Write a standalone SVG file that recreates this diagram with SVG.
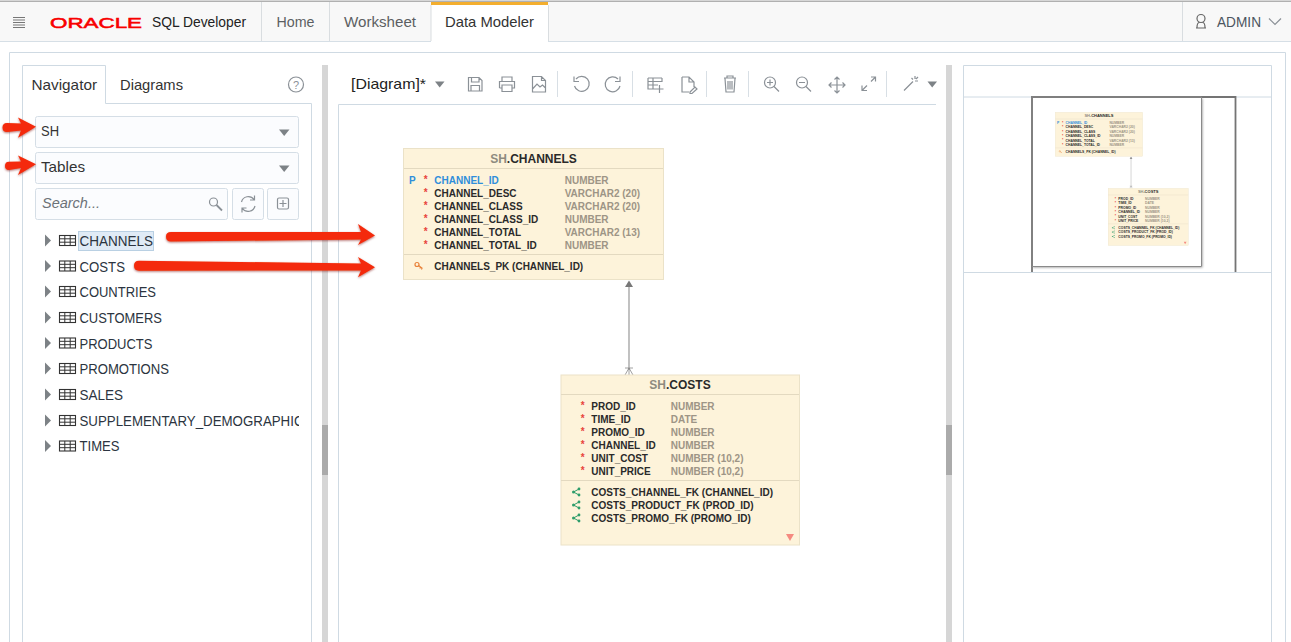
<svg xmlns="http://www.w3.org/2000/svg" width="1291" height="642" viewBox="0 0 1291 642">
<style>
text{font-family:"Liberation Sans",Arial,sans-serif}
.line{fill:none;stroke:#cfdae3;stroke-width:1}
.box{fill:#fbfcfe;stroke:#d5dee6;stroke-width:1}
.ic{fill:none;stroke:#8b9197;stroke-width:1.2}
.car{fill:#7d8286}
.ui{font-size:15px;fill:#333}
.tree{font-size:15px;fill:#2b3440}
.tn{fill:#fdf3da;stroke:#ebe2c8;stroke-width:1}
.dv{stroke:#e3d9c0;stroke-width:1}
.ttl{font-size:12px;font-weight:bold;fill:#2a2a2a;text-anchor:middle}
.ttl .sc{fill:#8e8b80}
.c{font-size:10px;font-weight:bold;fill:#2a2a2a}
.t{font-size:10px;font-weight:bold;fill:#9d9586}
.s{font-size:10px;font-weight:bold;fill:#e8443a}
.split{fill:#d6d6d6}
.thumb{fill:#ababab}
.red{fill:#f42a08;filter:url(#sh)}
</style>
<defs>
<filter id="sh" x="-10%" y="-40%" width="120%" height="200%"><feDropShadow dx="0" dy="1" stdDeviation="1" flood-color="#700" flood-opacity=".55"/></filter>
<filter id="ps" x="-5%" y="-5%" width="110%" height="110%"><feDropShadow dx="1" dy="1" stdDeviation="1" flood-color="#000" flood-opacity=".4"/></filter>
<clipPath id="treeclip"><rect x="20" y="225" width="279" height="240"/></clipPath>
<g id="tb"><rect x="0" y="-5" width="16" height="10" fill="none" stroke="#333" stroke-width="1.1"/><path d="M0-1.700H16M0 1.700H16M5.300-5V5M10.700-5V5" stroke="#333" stroke-width="1" fill="none"/></g>
<path id="exp" d="M0-6L6 0L0 6Z" class="car"/>
<g id="fk"><path d="M3.500-3L-2 0L3.500 3" fill="none" stroke="#2e9d6b" stroke-width="1"/><circle cx="-2" cy="0" r="1.500" fill="#2e9d6b"/><circle cx="3.500" cy="-3" r="1.400" fill="#2e9d6b"/><circle cx="3.500" cy="3" r="1.400" fill="#2e9d6b"/></g>
<g id="diagram">
<g id="connectors-fk"><path d="M629 284V370" stroke="#bbb" stroke-width="1.800" fill="none"/><path d="M629 280.500L633 287H625Z" fill="#777"/><path d="M629 368L625 375M629 368L633 375M629 368V375M625 368H633" stroke="#888" stroke-width=".8" fill="none"/></g>
<g id="node-channels">
<rect class="tn" x="403.500" y="148.500" width="260" height="131"/>
<path class="dv" d="M404 168.500H663M404 254.500H663"/>
<text class="ttl" x="533.500" y="162.500"><tspan class="sc">SH</tspan>.CHANNELS</text>
<text class="c" x="409" y="183.700" style="fill:#2f8edb">P</text>
<text class="c" x="434.300" y="183.700" style="fill:#2f8edb">CHANNEL_ID</text><text class="t" x="564.700" y="183.700">NUMBER</text>
<text class="c" x="434.300" y="196.700">CHANNEL_DESC</text><text class="t" x="564.700" y="196.700">VARCHAR2 (20)</text>
<text class="c" x="434.300" y="209.700">CHANNEL_CLASS</text><text class="t" x="564.700" y="209.700">VARCHAR2 (20)</text>
<text class="c" x="434.300" y="222.700">CHANNEL_CLASS_ID</text><text class="t" x="564.700" y="222.700">NUMBER</text>
<text class="c" x="434.300" y="235.700">CHANNEL_TOTAL</text><text class="t" x="564.700" y="235.700">VARCHAR2 (13)</text>
<text class="c" x="434.300" y="248.700">CHANNEL_TOTAL_ID</text><text class="t" x="564.700" y="248.700">NUMBER</text>
<text class="s" x="423.800" y="183">*</text><text class="s" x="423.800" y="196">*</text><text class="s" x="423.800" y="209">*</text><text class="s" x="423.800" y="222">*</text><text class="s" x="423.800" y="235">*</text><text class="s" x="423.800" y="248">*</text>
<circle cx="417" cy="264.500" r="2" fill="none" stroke="#e8823a" stroke-width="1.200"/><path d="M418.500 265.500L422.500 268.500M420.500 267L419.800 268.500M422 268L421.500 269.500" stroke="#e8823a" stroke-width="1.100" fill="none"/>
<text class="c" x="434.300" y="270">CHANNELS_PK (CHANNEL_ID)</text>
</g>
<g id="node-costs">
<rect class="tn" x="561" y="375" width="238.500" height="170"/>
<path class="dv" d="M561 394.500H799M561 480.500H799" />
<text class="ttl" x="680" y="389"><tspan class="sc">SH</tspan>.COSTS</text>
<text class="c" x="591.300" y="409.800">PROD_ID</text><text class="t" x="670.700" y="409.800">NUMBER</text>
<text class="c" x="591.300" y="422.800">TIME_ID</text><text class="t" x="670.700" y="422.800">DATE</text>
<text class="c" x="591.300" y="435.800">PROMO_ID</text><text class="t" x="670.700" y="435.800">NUMBER</text>
<text class="c" x="591.300" y="448.800">CHANNEL_ID</text><text class="t" x="670.700" y="448.800">NUMBER</text>
<text class="c" x="591.300" y="461.800">UNIT_COST</text><text class="t" x="670.700" y="461.800">NUMBER (10,2)</text>
<text class="c" x="591.300" y="474.800">UNIT_PRICE</text><text class="t" x="670.700" y="474.800">NUMBER (10,2)</text>
<text class="s" x="580.800" y="409">*</text><text class="s" x="580.800" y="422">*</text><text class="s" x="580.800" y="435">*</text><text class="s" x="580.800" y="448">*</text><text class="s" x="580.800" y="461">*</text><text class="s" x="580.800" y="474">*</text>
<use href="#fk" x="575.500" y="492"/><use href="#fk" x="575.500" y="505"/><use href="#fk" x="575.500" y="518"/>
<text class="c" x="591.300" y="496">COSTS_CHANNEL_FK (CHANNEL_ID)</text>
<text class="c" x="591.300" y="509">COSTS_PRODUCT_FK (PROD_ID)</text>
<text class="c" x="591.300" y="522">COSTS_PROMO_FK (PROMO_ID)</text>
<path d="M786 534H794L790 541Z" fill="#f58a80"/>
</g>
</g>
</defs>

<rect width="1291" height="642" fill="#fff"/>

<g id="header">
<rect x="0" y="1" width="1291" height="40.500" fill="#f8f8f8"/>
<path d="M0 1.200H1291" stroke="#b0b0b0" stroke-width="1.500"/>
<path d="M0 41.500H431M548 41.500H1291" stroke="#d6dfe6"/>
<rect x="431" y="2" width="117" height="40" fill="#fff"/>
<rect x="431" y="2" width="117" height="3" fill="#f3ae2e"/>
<path d="M261.500 2V41M329.500 2V41M431 5V41M548.500 5V41M1182.500 2V41" stroke="#d9dde0" fill="none"/>
<path d="M13 17.500H25M13 20H25M13 22.500H25M13 25H25M13 27.500H25" stroke="#777" fill="none"/>
<text x="50" y="27.500" font-size="15.500" fill="#f80000" stroke="#f80000" stroke-width=".55" textLength="92" lengthAdjust="spacingAndGlyphs">ORACLE</text>
<text x="152" y="27" font-size="14.500" fill="#222" textLength="94" lengthAdjust="spacingAndGlyphs">SQL Developer</text>
<text class="ui" x="276.500" y="27" style="fill:#5c5f62" textLength="38" lengthAdjust="spacingAndGlyphs">Home</text>
<text class="ui" x="344" y="27" style="fill:#5c5f62" textLength="72" lengthAdjust="spacingAndGlyphs">Worksheet</text>
<text class="ui" x="445" y="27" textLength="89" lengthAdjust="spacingAndGlyphs">Data Modeler</text>
<circle cx="1201" cy="18.500" r="4" class="ic" style="stroke:#666"/><path d="M1197 27.500Q1197 22.500 1199.500 22.500M1205 27.500Q1205 22.500 1202.500 22.500M1196 28H1206" class="ic" style="stroke:#666"/>
<text x="1217" y="27" font-size="15" fill="#4c5560" textLength="44" lengthAdjust="spacingAndGlyphs">ADMIN</text>
<path d="M1269 18.500L1275 24.500L1281 18.500" class="ic"/>
</g>

<g id="frames">
<path class="line" d="M9.500 642V52.500H1285.500V642"/>
<path class="line" d="M22.500 642V103.500H311.500V642"/>
<path d="M23 65.500H105.500V104H23Z" fill="#fff"/><path class="line" d="M22.500 104V65.500H105.500V103.500"/>
<rect class="split" x="322" y="65" width="6" height="577"/><rect class="thumb" x="322" y="425" width="6" height="50"/>
<rect class="split" x="946" y="65" width="6" height="577"/><rect class="thumb" x="946" y="425" width="6" height="50"/>
<path class="line" d="M338.500 642V104.500H936"/>
</g>

<g id="nav-tabs">
<text class="ui" x="31.500" y="90" textLength="65.500" lengthAdjust="spacingAndGlyphs">Navigator</text>
<text class="ui" x="120" y="90" textLength="63" lengthAdjust="spacingAndGlyphs">Diagrams</text>
<circle cx="296" cy="84.500" r="7.500" class="ic"/><text x="296" y="89" font-size="11" fill="#8b9197" text-anchor="middle">?</text>
</g>

<g id="nav-controls">
<rect class="box" x="35.500" y="116.500" width="263" height="31" rx="2"/>
<text class="ui" x="41" y="136" textLength="18" lengthAdjust="spacingAndGlyphs">SH</text><path class="car" d="M279 129.500H289.500L284.200 136Z"/>
<rect class="box" x="35.500" y="152.500" width="263" height="31" rx="2"/>
<text class="ui" x="41" y="172" textLength="44" lengthAdjust="spacingAndGlyphs">Tables</text><path class="car" d="M279 165.500H289.500L284.200 172Z"/>
<rect class="box" x="35.500" y="188.500" width="192" height="31" rx="2"/>
<text class="ui" x="42" y="208" font-style="italic" style="fill:#6c7278" textLength="58" lengthAdjust="spacingAndGlyphs">Search...</text>
<circle cx="213.500" cy="202" r="4" class="ic"/><path d="M216.500 205L222 210.500" stroke="#8b9197" stroke-width="1.800"/>
<rect class="box" x="232.500" y="188.500" width="31" height="31" rx="2"/>
<path class="ic" d="M241.500 202A7 7 0 0 1 254 199.500M255 206A7 7 0 0 1 242.500 208.500M254.500 195.500V200H250M242 212.500V208H246.500"/>
<rect class="box" x="267.500" y="188.500" width="31" height="31" rx="2"/>
<rect class="ic" x="277.500" y="198" width="11" height="11" rx="1.500"/><path class="ic" d="M283 200V207M279.500 203.500H286.500"/>
</g>

<g id="tree">
<rect x="78.500" y="231.500" width="75" height="19" fill="#e0ebf6" stroke="#b9d0e3"/>
<use href="#exp" x="45" y="240.500"/><use href="#tb" x="59.500" y="240.500"/><text class="tree" x="79.500" y="245.500" textLength="73.500" lengthAdjust="spacingAndGlyphs">CHANNELS</text>
<use href="#exp" x="45" y="266"/><use href="#tb" x="59.500" y="266"/><text class="tree" x="79.500" y="271.500" textLength="45.500" lengthAdjust="spacingAndGlyphs">COSTS</text>
<use href="#exp" x="45" y="291.500"/><use href="#tb" x="59.500" y="291.500"/><text class="tree" x="79.500" y="297" textLength="76.500" lengthAdjust="spacingAndGlyphs">COUNTRIES</text>
<use href="#exp" x="45" y="317.500"/><use href="#tb" x="59.500" y="317.500"/><text class="tree" x="79.500" y="323" textLength="82.500" lengthAdjust="spacingAndGlyphs">CUSTOMERS</text>
<use href="#exp" x="45" y="343"/><use href="#tb" x="59.500" y="343"/><text class="tree" x="79.500" y="348.500" textLength="73" lengthAdjust="spacingAndGlyphs">PRODUCTS</text>
<use href="#exp" x="45" y="368.500"/><use href="#tb" x="59.500" y="368.500"/><text class="tree" x="79.500" y="374" textLength="89.500" lengthAdjust="spacingAndGlyphs">PROMOTIONS</text>
<use href="#exp" x="45" y="394.500"/><use href="#tb" x="59.500" y="394.500"/><text class="tree" x="79.500" y="399.500" textLength="43.500" lengthAdjust="spacingAndGlyphs">SALES</text>
<use href="#exp" x="45" y="420.500"/><use href="#tb" x="59.500" y="420.500"/><g clip-path="url(#treeclip)"><text class="tree" x="79.500" y="425.500" textLength="224" lengthAdjust="spacingAndGlyphs">SUPPLEMENTARY_DEMOGRAPHIC</text></g>
<use href="#exp" x="45" y="446"/><use href="#tb" x="59.500" y="446"/><text class="tree" x="79.500" y="451" textLength="40" lengthAdjust="spacingAndGlyphs">TIMES</text>
</g>

<g id="toolbar">
<text x="351" y="89" font-size="15" fill="#222" textLength="75" lengthAdjust="spacingAndGlyphs">[Diagram]*</text>
<path class="car" d="M435 81.500H444.500L439.700 87.500Z"/>
<path class="ic" d="M468.500 77.500H479L482 80.500V91H468.500ZM471.500 77.500V82H479V77.500M471 91V85.500H479.500V91"/>
<path class="ic" d="M502 81.500V77H512V81.500M499.500 88V81.500H514.500V88H512M499.500 88H502M502 85H512V91.500H502Z"/>
<path class="ic" d="M532.500 76.500H541.500L545.500 80.500V92H532.500ZM541.500 76.500V80.500H545.500M532.500 89L537 84L540 87L542.500 85L545.500 88"/>
<path d="M557.500 71V97" stroke="#d8dfe5"/>
<path class="ic" d="M576 79A7.500 7.500 0 1 1 574.500 86M574 76.500V81.500H579"/>
<path class="ic" d="M618 79A7.500 7.500 0 1 0 620 86M620 76.500V81.500H615"/>
<path d="M632.500 71V97" stroke="#d8dfe5"/>
<path class="ic" d="M648 78H662M648 78V89H656M648 81.500H662V78M648 85H658M653 78V89M659.500 85V93M655.500 89H663.500"/>
<path class="ic" d="M682 77H689L694 82V87M682 77V92H689M689 77V82H694M690 92L695 87L697 89L692 93.500L690 93.500Z"/>
<path d="M706.500 71V97" stroke="#d8dfe5"/>
<path class="ic" d="M724 78H736M727 78V76H733V78M725 78.500L726 92H734L735 78.500M728 81V89.500M730 81V89.500M732 81V89.500"/>
<path d="M748.500 71V97" stroke="#d8dfe5"/>
<circle class="ic" cx="770" cy="82.500" r="5.500"/><path class="ic" d="M767 82.500H773M770 79.500V85.500M774 86.500L779 91.500"/>
<circle class="ic" cx="802" cy="82.500" r="5.500"/><path class="ic" d="M799 82.500H805M806 86.500L811 91.500"/>
<path class="ic" d="M829 85H845M837 77V93M831.500 82.500L829 85L831.500 87.500M842.500 82.500L845 85L842.500 87.500M834.500 79.500L837 77L839.500 79.500M834.500 90.500L837 93L839.500 90.500"/>
<path class="ic" d="M862 90.500L867 85.500M871 81.500L875.500 77M862 85.500V90.500H867M871 77H875.500V81.500"/>
<path d="M886.500 71V97" stroke="#d8dfe5"/>
<path class="ic" d="M904 90.500L913 81.500M915 76V79M918 81H915M911.500 78L913 79.500M918 77L916 79"/>
<path class="car" d="M927.500 81.500H937L932.200 87.500Z"/>
</g>

<use href="#diagram"/>

<g id="connectors">
<path class="red" d="M2.500 127.500Q2.500 123 7 123L21 123.500L18 117.500L36 126.700L18 137.700L21 130.500L7 132Q2.500 132 2.500 127.500Z"/>
<path class="red" d="M5 166Q5 161.700 9 161.700L21 161.500L18 155.500L36 164.300L18 175L21 168L9 170Q5 170 5 166Z"/>
<path class="red" d="M166 236.500Q166 232 171 232L361 232L358 224L375 235.500L358 245L361 239.500L171 241.500Q166 241.500 166 236.500Z"/>
<path class="red" d="M134 265.500Q134 260.700 139 260.700L361 263.500L358 257L375 267.300L358 277.300L361 270.500L139 270.700Q134 270.700 134 265.500Z"/>
</g>

<g id="minimap">
<path class="line" d="M963.500 642V65.500H1271.500V642"/>
<path d="M964 97H1271M964 272.500H1271" stroke="#cfdae3"/>
<rect x="1032" y="97.500" width="169.500" height="169" fill="#fff" filter="url(#ps)"/>
<path d="M1032 272V97H1235.500V272" fill="none" stroke="#747474" stroke-width="1.800"/>
<path d="M1032 97H1201.500V266.500H1032" fill="none" stroke="#8a8a8a" stroke-width="1"/>
<use href="#diagram" transform="translate(919.700 62.400) scale(.336)"/>
</g>
</svg>
